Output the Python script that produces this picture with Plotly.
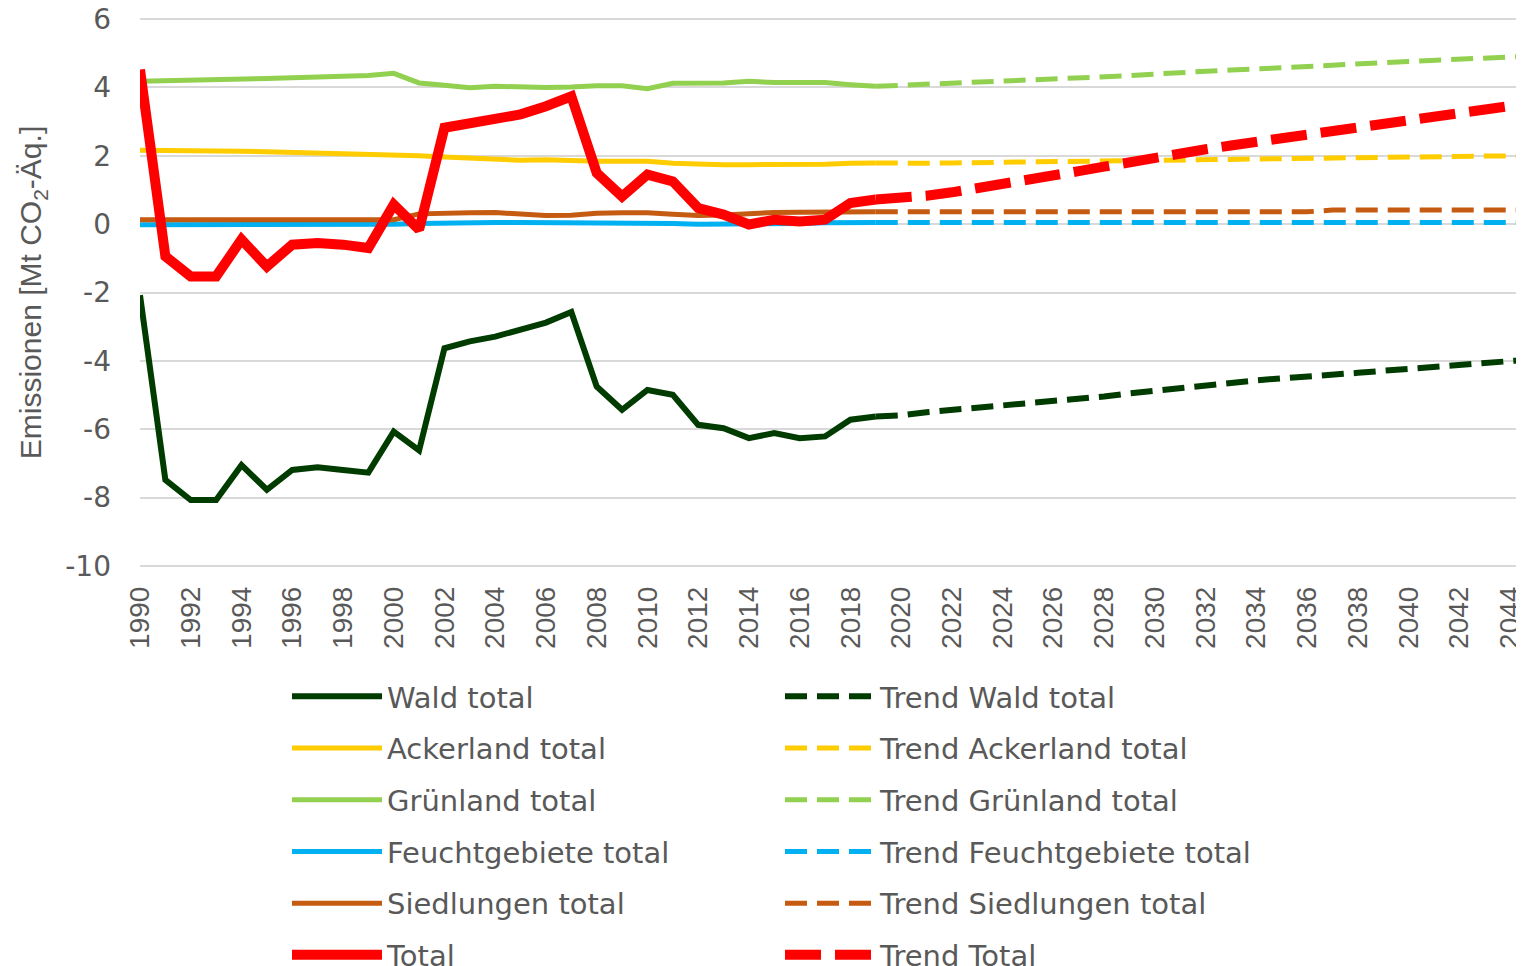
import plotly.graph_objects as go

# ---- data ----
hist_years = list(range(1990, 2020))
trend_years = list(range(2019, 2046))

wald = [-2.08, -7.48, -8.07, -8.07, -7.05, -7.77, -7.19, -7.11, -7.19, -7.27,
        -6.07, -6.62, -3.63, -3.43, -3.29, -3.09, -2.88, -2.57, -4.75, -5.43,
        -4.85, -4.99, -5.87, -5.97, -6.26, -6.11, -6.26, -6.21, -5.72, -5.63]
ackerland = [2.16, 2.16, 2.15, 2.14, 2.13, 2.12, 2.10, 2.10, 2.09, 2.06,
             2.04, 2.00, 1.96, 1.92, 1.91, 1.87, 1.88, 1.85, 1.84, 1.84,
             1.84, 1.78, 1.75, 1.74, 1.74, 1.74, 1.74, 1.75, 1.78, 1.79]
gruenland = [4.18, 4.19, 4.22, 4.23, 4.25, 4.26, 4.28, 4.30, 4.33, 4.35,
             4.41, 4.13, 4.06, 3.99, 4.03, 4.00, 4.00, 4.01, 4.05, 4.05,
             3.96, 4.12, 4.13, 4.13, 4.18, 4.14, 4.14, 4.14, 4.08, 4.03]
feucht = [-0.02, -0.02, -0.02, -0.02, -0.02, -0.02, -0.02, -0.02, -0.02, -0.02,
          0.00, 0.02, 0.04, 0.05, 0.05, 0.05, 0.05, 0.05, 0.05, 0.05,
          0.05, 0.02, 0.00, 0.00, 0.00, 0.00, 0.02, 0.04, 0.05, 0.05]
siedlung = [0.13, 0.13, 0.13, 0.13, 0.13, 0.13, 0.13, 0.13, 0.13, 0.13,
            0.13, 0.30, 0.33, 0.33, 0.34, 0.31, 0.25, 0.26, 0.32, 0.33,
            0.33, 0.29, 0.25, 0.27, 0.32, 0.34, 0.35, 0.36, 0.36, 0.36]
total = [4.52, -0.94, -1.53, -1.53, -0.45, -1.24, -0.60, -0.55, -0.60, -0.70,
         0.57, -0.16, 2.82, 2.96, 3.11, 3.21, 3.45, 3.74, 1.50, 0.81,
         1.45, 1.25, 0.47, 0.28, -0.01, 0.13, 0.08, 0.13, 0.62, 0.72]

trend_wald = [-5.63, -5.59, -5.50, -5.44, -5.38, -5.32, -5.26, -5.20, -5.12, -5.04,
              -4.95, -4.87, -4.79, -4.70, -4.63, -4.57, -4.51, -4.47, -4.41, -4.35,
              -4.29, -4.23, -4.17, -4.11, -4.06, -4.02, -3.95]
trend_ackerland = [1.79, 1.77, 1.78, 1.79, 1.80, 1.81, 1.82, 1.84, 1.85, 1.87,
                   1.88, 1.88, 1.89, 1.91, 1.91, 1.91, 1.92, 1.94, 1.95, 1.95,
                   1.95, 1.96, 1.97, 1.98, 1.99, 1.99, 2.00]
trend_gruenland = [4.03, 4.06, 4.11, 4.14, 4.17, 4.19, 4.21, 4.23, 4.26, 4.29,
                   4.34, 4.39, 4.44, 4.48, 4.51, 4.54, 4.57, 4.61, 4.65, 4.69,
                   4.72, 4.76, 4.79, 4.82, 4.85, 4.88, 4.92]
trend_feucht = [0.05, 0.05, 0.05, 0.05, 0.05, 0.05, 0.05, 0.05, 0.05, 0.05,
                0.05, 0.05, 0.05, 0.05, 0.05, 0.05, 0.05, 0.05, 0.05, 0.05,
                0.05, 0.05, 0.05, 0.05, 0.05, 0.05, 0.05]
trend_siedlung = [0.36, 0.36, 0.36, 0.36, 0.36, 0.36, 0.36, 0.36, 0.36, 0.36,
                  0.36, 0.36, 0.36, 0.36, 0.36, 0.36, 0.36, 0.36, 0.41, 0.41,
                  0.41, 0.41, 0.41, 0.41, 0.41, 0.41, 0.41]
trend_total = [0.72, 0.74, 0.83, 0.93, 1.04, 1.16, 1.29, 1.42, 1.55, 1.68,
               1.82, 1.95, 2.07, 2.19, 2.30, 2.41, 2.52, 2.62, 2.74, 2.86,
               2.97, 3.07, 3.17, 3.27, 3.36, 3.45, 3.56]

y_ticks = [-10, -8, -6, -4, -2, 0, 2, 4, 6]
y_ticktext = ["-10", "-8", "-6", "-4", "-2", "0", "2", "4", "6"]
x_ticks = list(range(1990, 2045, 2))
x_ticktext = [str(v) for v in x_ticks]
x_range = [1990, 2044.47]   # the original chart is cut off just before 2045

# ---- series definitions (name, x, y, color, width, dashed, legend, rank) ----
series = [
    ("Feuchtgebiete total", hist_years, feucht, "#00B0F0", 5, False, "legend", 4),
    ("Siedlungen total", hist_years, siedlung, "#C55A11", 5, False, "legend", 5),
    ("Ackerland total", hist_years, ackerland, "#FFCC00", 5, False, "legend", 2),
    ("Grünland total", hist_years, gruenland, "#92D050", 5, False, "legend", 3),
    ("Wald total", hist_years, wald, "#003B00", 6, False, "legend", 1),
    ("Trend Feuchtgebiete total", trend_years, trend_feucht, "#00B0F0", 5, True, "legend2", 4),
    ("Trend Siedlungen total", trend_years, trend_siedlung, "#C55A11", 5, True, "legend2", 5),
    ("Trend Ackerland total", trend_years, trend_ackerland, "#FFCC00", 5, True, "legend2", 2),
    ("Trend Grünland total", trend_years, trend_gruenland, "#92D050", 5, True, "legend2", 3),
    ("Trend Wald total", trend_years, trend_wald, "#003B00", 6, True, "legend2", 1),
    ("Total", hist_years, total, "#FF0000", 10, False, "legend", 6),
    ("Trend Total", trend_years, trend_total, "#FF0000", 10, True, "legend2", 6),
]

fig = go.Figure()
for name, xs, ys, color, width, dashed, leg, rank in series:
    dash = None
    if dashed:
        dash = "36px,14px" if width >= 10 else "22px,10px"
    fig.add_trace(go.Scatter(
        x=xs, y=ys, name=name, mode="lines",
        line=dict(color=color, width=width, dash=dash),
        legend=leg, legendrank=rank, legendgroup=name,
    ))

# page has an 8px body margin; figure coordinates are page coordinates - 8
OFF = 8
W, H = 1524 - OFF, 966 - OFF
PAD = 2  # small extra so edge gridlines (6 and -10) are drawn
L, T = 140 - OFF, 19 - OFF - PAD
R = W - (1522 - OFF)
B = H - (566 - OFF) - PAD
pw, ph = W - L - R, H - T - B
ext = PAD * 16 / (ph - 2 * PAD)

def px_to_paper_x(px):
    return (px - OFF - L) / pw

def px_to_paper_y(py):
    return (H - B - (py - OFF)) / ph

legend_font = dict(family="DejaVu Sans", size=29, color="#595959")
legend_common = dict(
    orientation="v", traceorder="grouped", tracegroupgap=11,
    itemwidth=90, font=legend_font, bgcolor="rgba(0,0,0,0)",
    xanchor="left", yanchor="top", itemclick=False, itemdoubleclick=False,
)

fig.update_layout(
    width=W, height=H,
    margin=dict(l=L, r=R, t=T, b=B, autoexpand=False),
    plot_bgcolor="white", paper_bgcolor="white",
    showlegend=True,
    legend=dict(x=px_to_paper_x(287), y=px_to_paper_y(671), **legend_common),
    legend2=dict(x=px_to_paper_x(780), y=px_to_paper_y(671), **legend_common),
    xaxis=dict(
        range=x_range, tickmode="array", tickvals=x_ticks, ticktext=x_ticktext,
        tickangle=-90, showgrid=False, zeroline=False, showline=False,
        ticks="", ticklabelstandoff=12, ticklabeloverflow="allow",
        tickfont=dict(family="Liberation Sans", size=28, color="#595959"),
        automargin=False,
    ),
    yaxis=dict(
        range=[-10 - ext, 6 + ext], tickmode="array", tickvals=y_ticks, ticktext=y_ticktext,
        showgrid=True, gridcolor="#D9D9D9", gridwidth=2, zeroline=False,
        showline=False, ticks="", ticklabelstandoff=28, ticklabeloverflow="allow",
        tickfont=dict(family="DejaVu Sans", size=28, color="#595959"),
        title=dict(text="Emissionen [Mt CO<sub>2</sub>-Äq.]", standoff=14,
                   font=dict(family="Liberation Sans", size=30, color="#595959")),
        automargin=False,
    ),
)

fig.write_html("out.html")
